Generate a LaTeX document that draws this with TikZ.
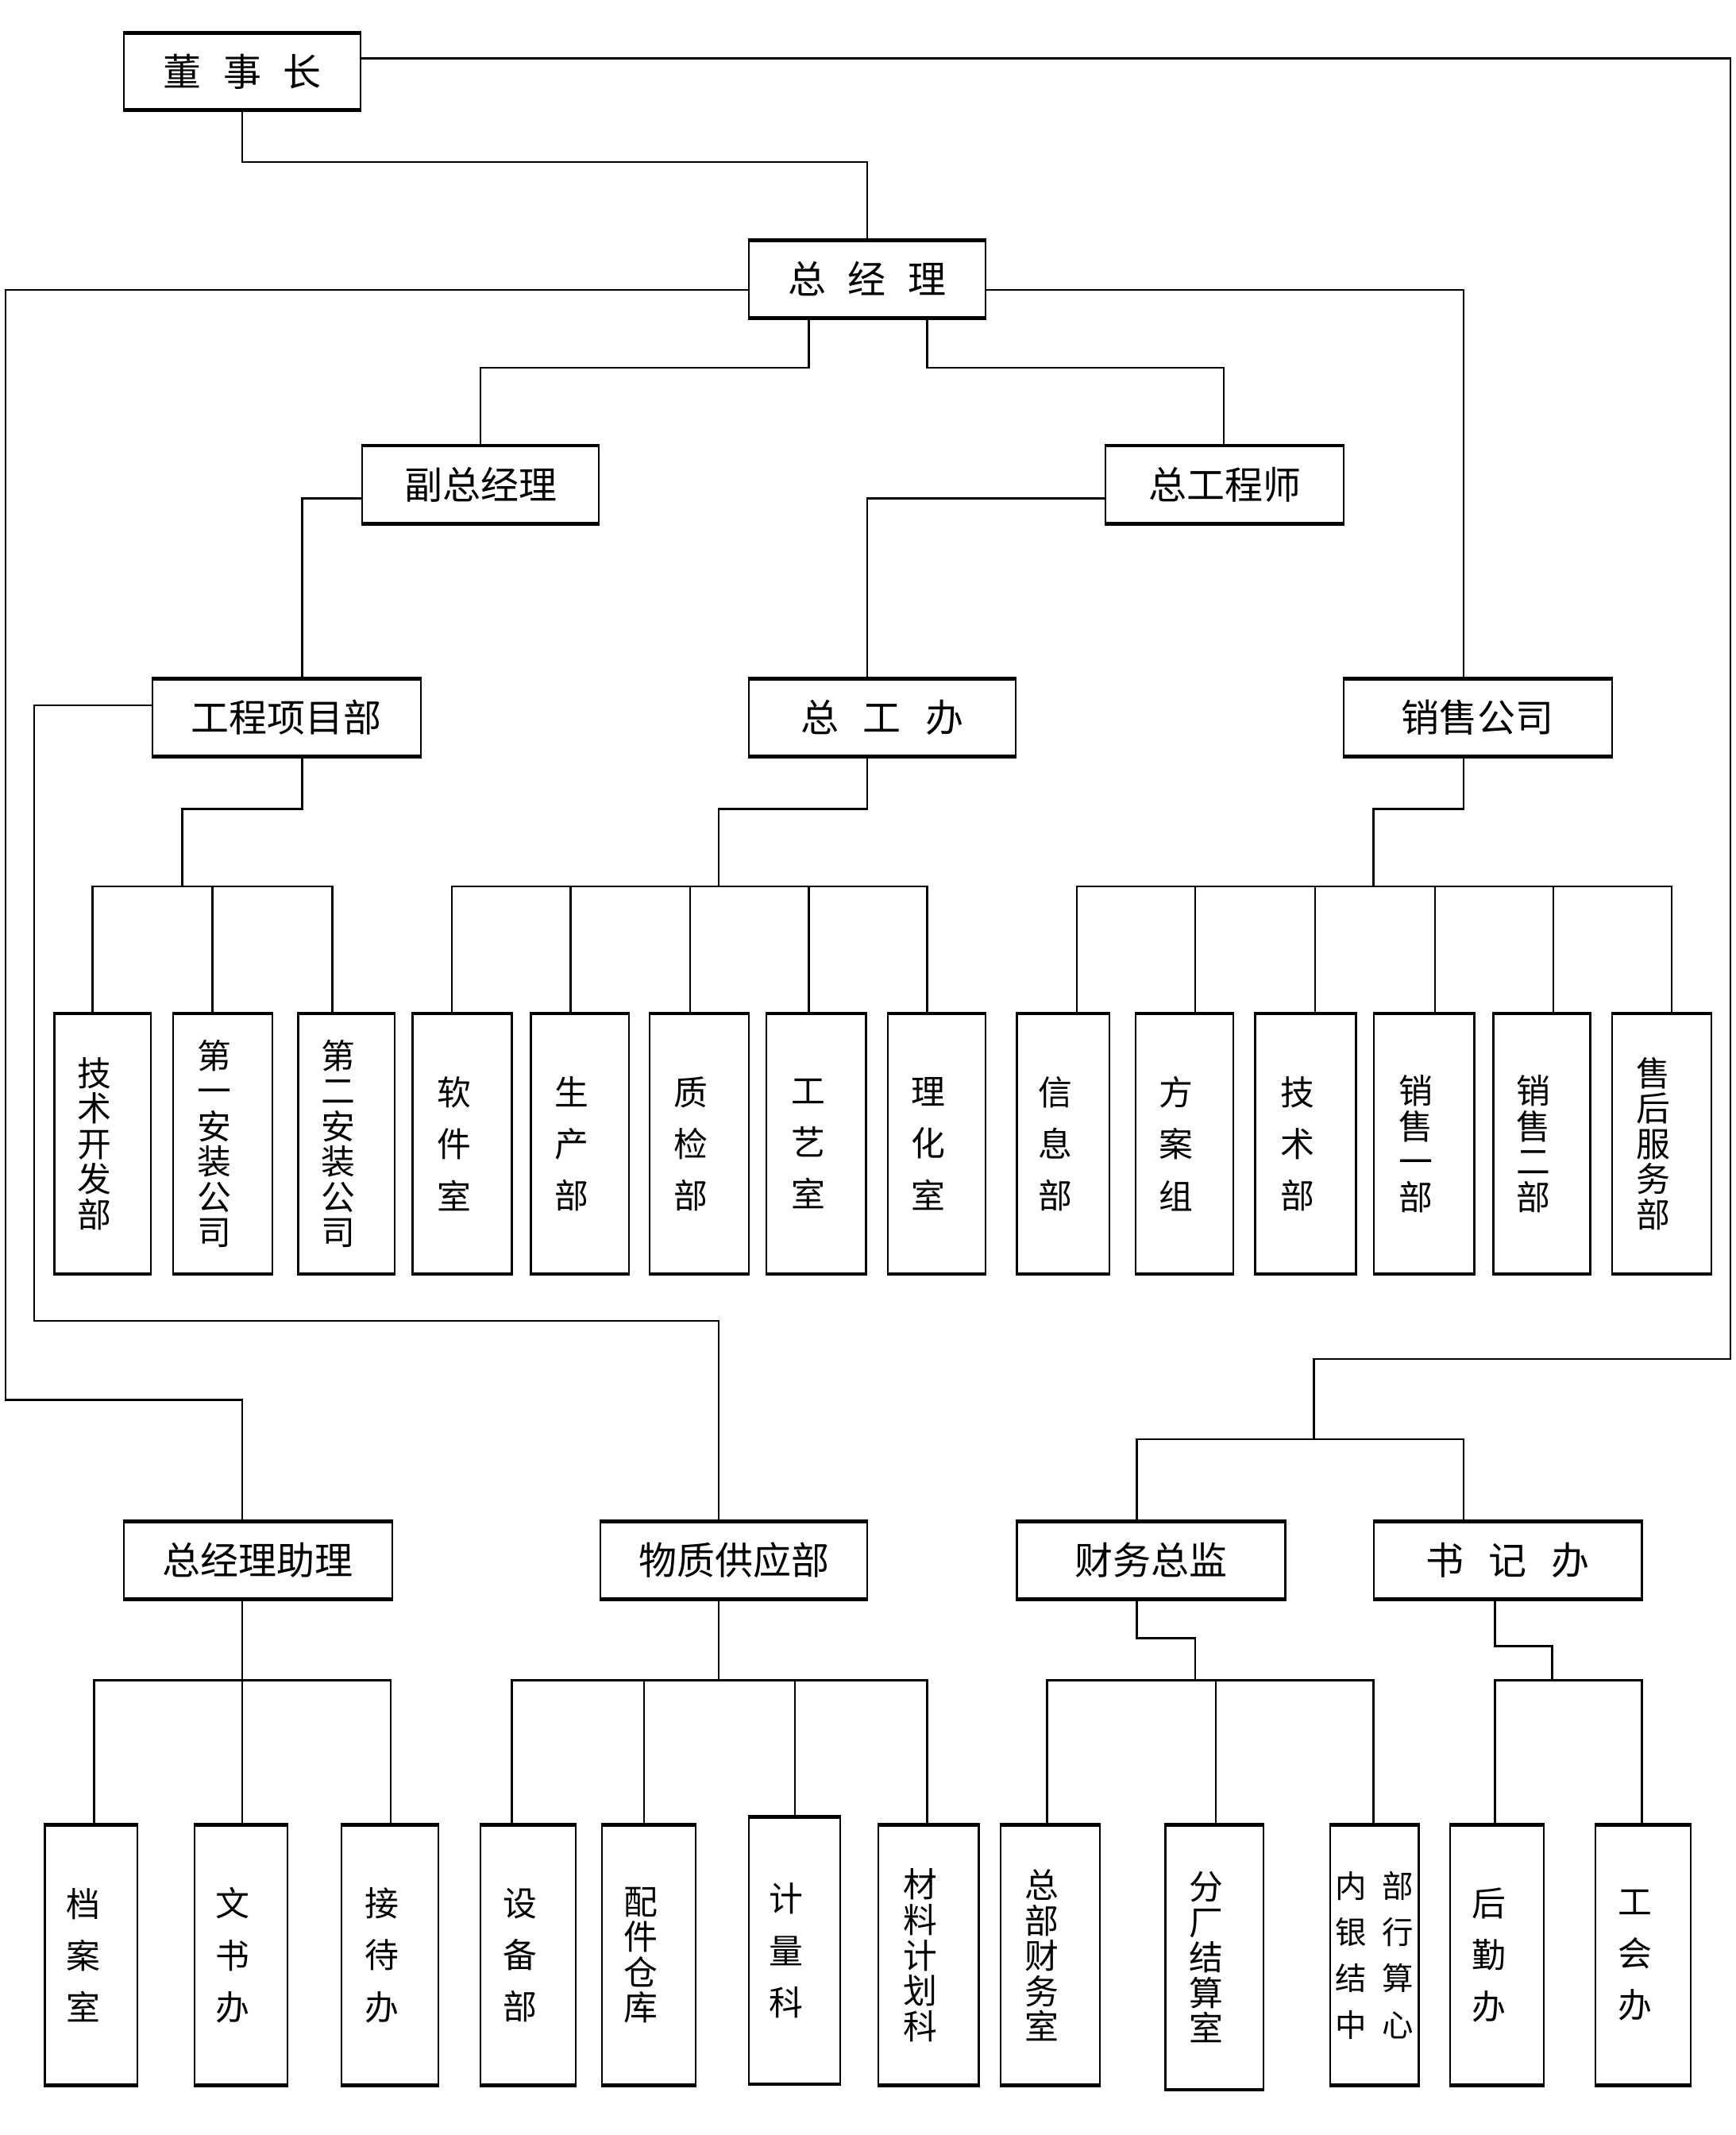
\documentclass[tikz,border=0pt]{standalone}
\usepackage{fontspec}
\newfontfamily\cjk{Noto Sans CJK SC}
\newcommand\bx[7][box]{\node[#1,minimum width={#5-#3},minimum height={#6-#4}] (#2) at ({(#3+#5)/2},{(#4+#6)/2}) {#7};}
\newcommand\vpd{\rule{12pt}{0pt}}
\begin{document}
\begin{tikzpicture}[x=1pt,y=-1pt,
  box/.style={draw,line width=1.4pt,inner sep=0pt,align=center,font=\cjk\fontsize{28}{30}\selectfont},
  vbox/.style={box,font=\cjk\fontsize{25}{26}\selectfont},
  vboxw/.style={box,font=\cjk\fontsize{25}{38}\selectfont},
  vboxc/.style={box,font=\cjk\fontsize{23}{34}\selectfont},
  conn/.style={line width=1.5pt,line cap=rect},
  hedge/.style={line width=2.6pt}]
\useasboundingbox (0,0) rectangle (1275,1568);
% upper boxes
\bx{dsz}{91}{25}{265}{80}{董\hspace{16pt}事\hspace{16pt}长}
\bx{zjl}{550}{177}{724}{233}{总\hspace{16pt}经\hspace{16pt}理}
\bx{fzjl}{266}{328}{440}{384}{副总经理}
\bx{zgcs}{812}{328}{987}{384}{总工程师}
\bx{gcxm}{112}{499}{309}{555}{工程项目部}
\bx{zgb}{550}{499}{746}{555}{总\hspace{18pt}工\hspace{18pt}办}
\bx{xsgs}{987}{499}{1184}{555}{销售公司}
\bx{zjlzl}{91}{1118}{288}{1174}{总经理助理}
\bx{wzgy}{441}{1118}{637}{1174}{物质供应部}
\bx{cwzj}{747}{1118}{944}{1174}{财务总监}
\bx{sjb}{1009}{1118}{1206}{1174}{书\hspace{18pt}记\hspace{18pt}办}
% row 1 boxes
\bx[vbox]{b1}{40}{745}{111}{935}{技\vpd\\术\vpd\\开\vpd\\发\vpd\\部\vpd}
\bx[vbox]{b2}{127}{745}{200}{935}{第\vpd\\一\vpd\\安\vpd\\装\vpd\\公\vpd\\司\vpd}
\bx[vbox]{b3}{219}{745}{290}{935}{第\vpd\\二\vpd\\安\vpd\\装\vpd\\公\vpd\\司\vpd}
\bx[vboxw]{b4}{303}{745}{376}{935}{软\vpd\\件\vpd\\室\vpd}
\bx[vboxw]{b5}{390}{745}{462}{935}{生\vpd\\产\vpd\\部\vpd}
\bx[vboxw]{b6}{477}{745}{550}{935}{质\vpd\\检\vpd\\部\vpd}
\bx[vboxw]{b7}{563}{745}{636}{935}{工\vpd\\艺\vpd\\室\vpd}
\bx[vboxw]{b8}{652}{745}{724}{935}{理\vpd\\化\vpd\\室\vpd}
\bx[vboxw]{b9}{747}{745}{815}{935}{信\vpd\\息\vpd\\部\vpd}
\bx[vboxw]{b10}{834}{745}{906}{935}{方\vpd\\案\vpd\\组\vpd}
\bx[vboxw]{b11}{922}{745}{996}{935}{技\vpd\\术\vpd\\部\vpd}
\bx[vbox]{b12}{1009}{745}{1083}{935}{销\vpd\\售\vpd\\一\vpd\\部\vpd}
\bx[vbox]{b13}{1097}{745}{1168}{935}{销\vpd\\售\vpd\\二\vpd\\部\vpd}
\bx[vbox]{b14}{1184}{745}{1257}{935}{售\vpd\\后\vpd\\服\vpd\\务\vpd\\部\vpd}
% row 2 boxes
\bx[vboxw]{c1}{33}{1341}{101}{1531}{档\vpd\\案\vpd\\室\vpd}
\bx[vboxw]{c2}{143}{1341}{211}{1531}{文\vpd\\书\vpd\\办\vpd}
\bx[vboxw]{c3}{251}{1341}{322}{1531}{接\vpd\\待\vpd\\办\vpd}
\bx[vboxw]{c4}{353}{1341}{423}{1531}{设\vpd\\备\vpd\\部\vpd}
\bx[vbox]{c5}{442}{1341}{511}{1531}{配\vpd\\件\vpd\\仓\vpd\\库\vpd}
\bx[vboxw]{c6}{550}{1335}{617}{1530}{计\vpd\\量\vpd\\科\vpd}
\bx[vbox]{c7}{645}{1341}{719}{1531}{材\vpd\\料\vpd\\计\vpd\\划\vpd\\科\vpd}
\bx[vbox]{c8}{735}{1341}{808}{1531}{总\vpd\\部\vpd\\财\vpd\\务\vpd\\室\vpd}
\bx[vbox]{c9}{856}{1341}{928}{1534}{分\vpd\\厂\vpd\\结\vpd\\算\vpd\\室\vpd}
\bx[vboxc]{c10}{977}{1341}{1042}{1531}{内\hspace{11pt}部\\银\hspace{11pt}行\\结\hspace{11pt}算\\中\hspace{11pt}心}
\bx[vboxw]{c11}{1065}{1341}{1134}{1531}{后\vpd\\勤\vpd\\办\vpd}
\bx[vboxw]{c12}{1172}{1341}{1242}{1531}{工\vpd\\会\vpd\\办\vpd}
% thicker top and bottom edges
\foreach \n in {dsz,zjl,fzjl,zgcs,gcxm,zgb,xsgs,zjlzl,wzgy,cwzj,sjb,b1,b2,b3,b4,b5,b6,b7,b8,b9,b10,b11,b12,b13,b14,c1,c2,c3,c4,c5,c6,c7,c8,c9,c10,c11,c12}
  \draw[hedge] (\n.north west) -- (\n.north east) (\n.south west) -- (\n.south east);
% connectors
\draw[conn] (dsz.east |- 0,43) -| (1271,998) -| (965,1057);
\draw[conn] (835,0 |- cwzj.north) |- (965,1057) -| (1075,0 |- sjb.north);
\draw[conn] (dsz.south) |- (637,119) -- (zjl.north);
\draw[conn] (zjl.west |- 0,213) -| (4,1028) -| (178,0 |- zjlzl.north);
\draw[conn] (zjl.east |- 0,213) -| (1075,0 |- xsgs.north);
\draw[conn] (594,0 |- zjl.south) |- (353,270) -- (fzjl.north);
\draw[conn] (681,0 |- zjl.south) |- (899,270) -- (899,0 |- zgcs.north);
\draw[conn] (fzjl.west |- 0,366) -| (222,0 |- gcxm.north);
\draw[conn] (zgcs.west |- 0,366) -| (637,0 |- zgb.north);
\draw[conn] (gcxm.west |- 0,518) -| (25,970) -| (528,0 |- wzgy.north);
% row 1 buses
\draw[conn] (222,0 |- gcxm.south) |- (134,594) -- (134,651);
\draw[conn] (68,651) -- (244,651);
\foreach \x/\n in {68/b1,156/b2,244/b3} \draw[conn] (\x,651) -- (\x,0 |- \n.north);
\draw[conn] (637,0 |- zgb.south) |- (528,594) -- (528,651);
\draw[conn] (332,651) -- (681,651);
\foreach \x/\n in {332/b4,419/b5,507/b6,594/b7,681/b8} \draw[conn] (\x,651) -- (\x,0 |- \n.north);
\draw[conn] (1075,0 |- xsgs.south) |- (1009,594) -- (1009,651);
\draw[conn] (791,651) -- (1228,651);
\foreach \x/\n in {791/b9,878/b10,966/b11,1054/b12,1141/b13,1228/b14} \draw[conn] (\x,651) -- (\x,0 |- \n.north);
% row 2 buses
\draw[conn] (178,0 |- zjlzl.south) -- (178,1234);
\draw[conn] (69,1234) -- (287,1234);
\foreach \x/\n in {69/c1,178/c2,287/c3} \draw[conn] (\x,1234) -- (\x,0 |- \n.north);
\draw[conn] (528,0 |- wzgy.south) -- (528,1234);
\draw[conn] (376,1234) -- (681,1234);
\foreach \x/\n in {376/c4,473/c5,584/c6,681/c7} \draw[conn] (\x,1234) -- (\x,0 |- \n.north);
\draw[conn] (835,0 |- cwzj.south) |- (878,1203) -- (878,1234);
\draw[conn] (769,1234) -- (1009,1234);
\foreach \x/\n in {769/c8,893/c9,1009/c10} \draw[conn] (\x,1234) -- (\x,0 |- \n.north);
\draw[conn] (1098,0 |- sjb.south) |- (1140,1209) -- (1140,1234);
\draw[conn] (1098,1234) -- (1206,1234);
\foreach \x/\n in {1098/c11,1206/c12} \draw[conn] (\x,1234) -- (\x,0 |- \n.north);
\end{tikzpicture}
\end{document}
